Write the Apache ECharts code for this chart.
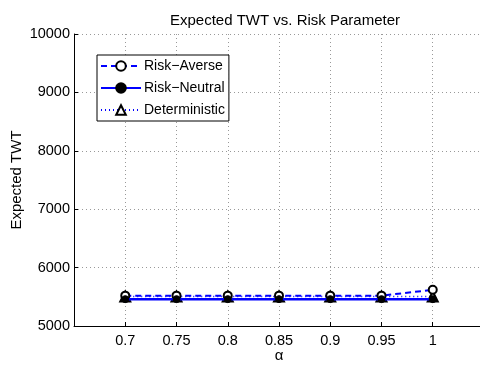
<!DOCTYPE html>
<html>
<head>
<meta charset="utf-8">
<script src="https://cdn.jsdelivr.net/npm/echarts@6/dist/echarts.min.js"></script>
<style>
  html, body { margin: 0; padding: 0; background: #fff; }
  #chart { width: 480px; height: 366px; }
</style>
</head>
<body>
<div id="chart"></div>
<script>
var alphas = [0.7, 0.75, 0.8, 0.85, 0.9, 0.95, 1];
var riskAverse = [5520, 5520, 5520, 5520, 5520, 5520, 5620];
var riskNeutral = [5460, 5460, 5460, 5460, 5460, 5460, 5460];
var deterministic = [5505, 5505, 5505, 5505, 5505, 5505, 5505];
var yTicks = [5000, 6000, 7000, 8000, 9000, 10000];

function pairs(vals) {
    return alphas.map(function (a, i) { return [a, vals[i]]; });
}

var FONT = 'Liberation Sans, Arial, sans-serif';
var dom = document.getElementById('chart');
var myChart = echarts.init(dom, null, { renderer: 'canvas' });
var option = {
    backgroundColor: '#fff',
    animation: false,
    textStyle: { fontFamily: FONT },
    title: {
        text: 'Expected TWT vs. Risk Parameter',
        left: 280,
        textAlign: 'center',
        top: 8,
        textStyle: { fontSize: 15, fontWeight: 'normal', color: '#000', fontFamily: FONT }
    },
    legend: {
        orient: 'vertical',
        left: 97,
        top: 55,
        itemWidth: 40,
        itemHeight: 12,
        itemGap: 8,
        padding: [4, 4, 4, 3],
        borderColor: '#000',
        borderWidth: 1,
        backgroundColor: '#fff',
        textStyle: { fontSize: 14, color: '#000', fontFamily: FONT, padding: [0, 0, 0, -2] },
        data: ['Risk\u2212Averse', 'Risk\u2212Neutral', 'Deterministic']
    },
    grid: { left: 74, top: 34, width: 410, bottom: 40, outerBoundsMode: 'none' },
    xAxis: {
        type: 'value',
        min: 0.65,
        max: 1.05,
        interval: 0.05,
        name: '\u03b1',
        nameLocation: 'middle',
        nameGap: 22,
        nameMoveOverlap: false,
        nameTextStyle: { fontSize: 15, color: '#000', fontFamily: FONT },
        axisLine: { onZero: false, lineStyle: { color: '#000', width: 1 } },
        axisTick: { inside: true, length: 4, lineStyle: { color: '#000' } },
        axisLabel: {
            fontSize: 14.5, color: '#000', margin: 7, fontFamily: FONT,
            formatter: function (v) {
                if (Math.abs(v - 0.65) < 1e-6 || Math.abs(v - 1.05) < 1e-6) return '';
                return String(+v.toFixed(2));
            }
        },
        splitLine: { show: true, lineStyle: { color: '#999', type: [1, 3], width: 1 } }
    },
    yAxis: {
        type: 'value',
        min: yTicks[0],
        max: yTicks[yTicks.length - 1],
        interval: 1000,
        name: 'Expected TWT',
        nameLocation: 'middle',
        nameGap: 50,
        nameMoveOverlap: false,
        nameTextStyle: { fontSize: 15, color: '#000', fontFamily: FONT },
        axisLine: { show: true, lineStyle: { color: '#000', width: 1 } },
        axisTick: { inside: true, length: 4, lineStyle: { color: '#000' } },
        axisLabel: {
            fontSize: 14.5, color: '#000', margin: 4, fontFamily: FONT,
            formatter: function (v) { return String(v); }
        },
        splitLine: { show: true, lineStyle: { color: '#999', type: [1, 3], width: 1 } }
    },
    series: [{
        name: 'Risk\u2212Averse',
        type: 'line',
        data: pairs(riskAverse),
        symbol: 'circle',
        symbolSize: 8,
        z: 3,
        itemStyle: { color: '#fff', borderColor: '#000', borderWidth: 2 },
        lineStyle: { color: '#0000ff', width: 2, type: [6, 4] }
    }, {
        name: 'Risk\u2212Neutral',
        type: 'line',
        data: pairs(riskNeutral),
        symbol: 'circle',
        symbolSize: 7,
        z: 4,
        itemStyle: { color: '#000', borderColor: '#000', borderWidth: 1 },
        lineStyle: { color: '#0000ff', width: 2.5, type: 'solid' }
    }, {
        name: 'Deterministic',
        type: 'line',
        data: pairs(deterministic),
        symbol: 'triangle',
        symbolSize: 10,
        z: 2,
        itemStyle: { color: '#fff', borderColor: '#000', borderWidth: 2 },
        lineStyle: { color: '#0000ff', width: 1.5, type: [1, 3] }
    }]
};

if (option && typeof option === 'object') {
    myChart.setOption(option, true);
}
</script>
</body>
</html>
